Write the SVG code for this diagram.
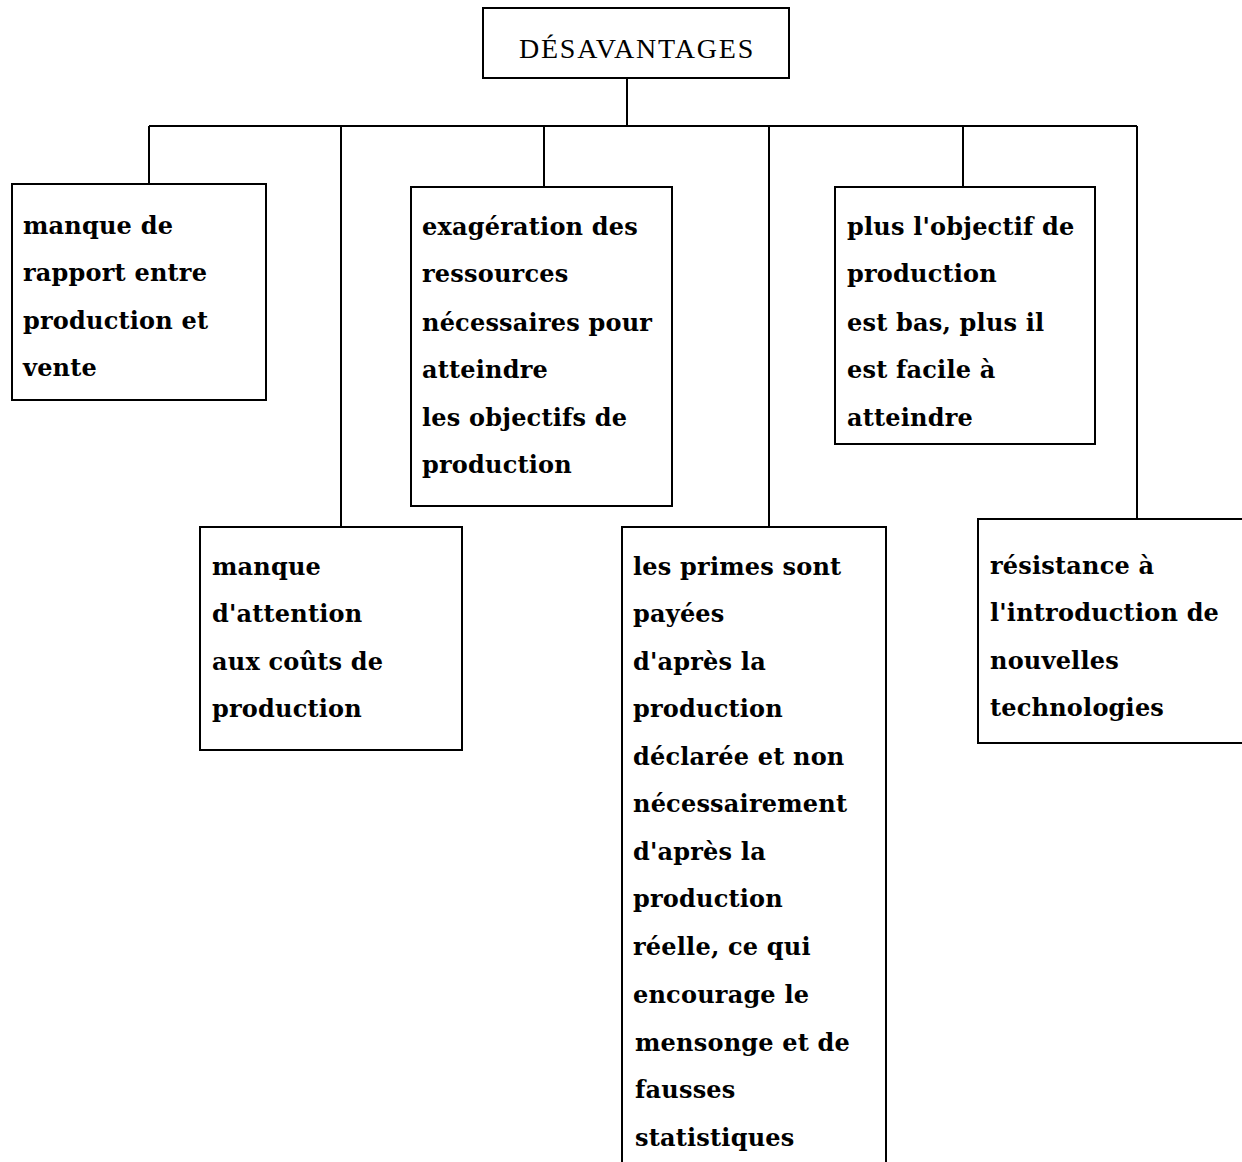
<svg xmlns="http://www.w3.org/2000/svg" width="1242" height="1162" viewBox="0 0 1242 1162">
<style>
.box{fill:#fff;stroke:#000;stroke-width:2}
.c{fill:none;stroke:#000;stroke-width:2}
.t{font-family:"DejaVu Serif",serif;font-weight:bold;font-size:24px;letter-spacing:0.2px;fill:#000}
.title{font-family:"Liberation Serif",serif;font-size:28px;letter-spacing:1.8px;fill:#000}
</style>
<rect width="1242" height="1162" fill="#fff"/>
<g id="connectors">
<path class="c" d="M627,78 V126 M149,126 H1137 M149,126 V184 M341,126 V527 M544,126 V187 M769,126 V527 M963,126 V187 M1137,126 V519"/>
</g>
<g id="root">
<rect class="box" x="483" y="8" width="306" height="70"/>
<text class="title" x="637" y="58" text-anchor="middle">DÉSAVANTAGES</text>
</g>
<g id="n1">
<rect class="box" x="12" y="184" width="254" height="216"/>
<text class="t" x="23"><tspan x="23" y="234">manque de</tspan><tspan x="23" y="281">rapport entre</tspan><tspan x="23" y="329">production et</tspan><tspan x="23" y="376">vente</tspan></text>
</g>
<g id="n2">
<rect class="box" x="200" y="527" width="262" height="223"/>
<text class="t"><tspan x="212" y="575">manque</tspan><tspan x="212" y="622">d'attention</tspan><tspan x="212" y="670">aux coûts de</tspan><tspan x="212" y="717">production</tspan></text>
</g>
<g id="n3">
<rect class="box" x="411" y="187" width="261" height="319"/>
<text class="t"><tspan x="422" y="235">exagération des</tspan><tspan x="422" y="282">ressources</tspan><tspan x="422" y="331">nécessaires pour</tspan><tspan x="422" y="378">atteindre</tspan><tspan x="422" y="426">les objectifs de</tspan><tspan x="422" y="473">production</tspan></text>
</g>
<g id="n4">
<path class="c" d="M622,1164 V527 H886 V1164"/>
<text class="t"><tspan x="633" y="575">les primes sont</tspan><tspan x="633" y="622">payées</tspan><tspan x="633" y="670">d'après la</tspan><tspan x="633" y="717">production</tspan><tspan x="633" y="765">déclarée et non</tspan><tspan x="633" y="812">nécessairement</tspan><tspan x="633" y="860">d'après la</tspan><tspan x="633" y="907">production</tspan><tspan x="633" y="955">réelle, ce qui</tspan><tspan x="633" y="1003">encourage le</tspan><tspan x="635" y="1051">mensonge et de</tspan><tspan x="635" y="1098">fausses</tspan><tspan x="635" y="1146">statistiques</tspan></text>
</g>
<g id="n5">
<rect class="box" x="835" y="187" width="260" height="257"/>
<text class="t"><tspan x="847" y="235">plus l'objectif de</tspan><tspan x="847" y="282">production</tspan><tspan x="847" y="331">est bas, plus il</tspan><tspan x="847" y="378">est facile à</tspan><tspan x="847" y="426">atteindre</tspan></text>
</g>
<g id="n6">
<rect class="box" x="978" y="519" width="280" height="224"/>
<text class="t"><tspan x="990" y="574">résistance à</tspan><tspan x="990" y="621">l'introduction de</tspan><tspan x="990" y="669">nouvelles</tspan><tspan x="990" y="716">technologies</tspan></text>
</g>
</svg>
